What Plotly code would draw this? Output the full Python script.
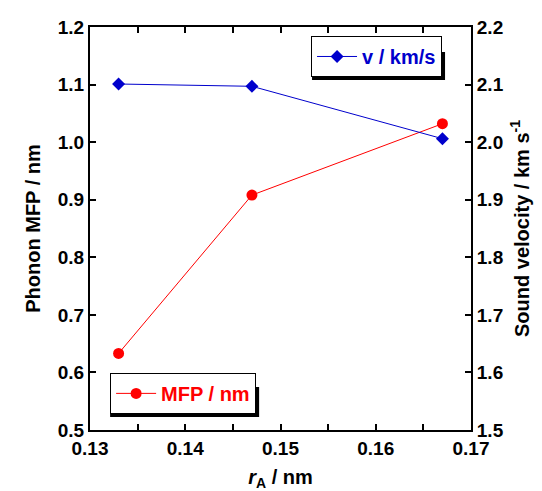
import plotly.graph_objects as go

r_A = [0.133, 0.147, 0.167]
mfp = [0.633, 0.908, 1.032]
velocity = [2.101, 2.097, 2.006]

BLUE = "#0000cc"
RED = "#ff0000"
FONT = "Liberation Sans"

fig = go.Figure()
fig.add_trace(go.Scatter(
    x=r_A, y=velocity, name="<b>v / km/s</b>", yaxis="y2",
    mode="lines+markers", line=dict(color=BLUE, width=1),
    marker=dict(symbol="diamond", size=10, color=BLUE),
    legend="legend"))
fig.add_trace(go.Scatter(
    x=r_A, y=mfp, name="<b>MFP / nm</b>", yaxis="y",
    mode="lines+markers", line=dict(color=RED, width=1),
    marker=dict(symbol="circle", size=11, color=RED),
    legend="legend2"))

axis_common = dict(showline=True, linecolor="black", linewidth=2,
                   ticks="inside", ticklen=6, tickwidth=2, tickcolor="black",
                   showgrid=False, zeroline=False, automargin=False,
                   tickfont=dict(family=FONT, size=19, color="black", weight="bold"))

# legend boxes anchored by their bottom-right corner (paper coords)
leg1_x, leg1_y = 0.924, 0.876
leg2_x, leg2_y = 0.436, 0.040


def shadow(xa, ya, w, h):
    return dict(type="rect", xref="paper", yref="paper",
                xsizemode="pixel", ysizemode="pixel",
                xanchor=xa, yanchor=ya,
                x0=-w + 3, x1=3, y0=-3, y1=h - 3,
                fillcolor="black", line=dict(width=0), layer="above")


fig.update_layout(
    width=542, height=491,
    margin=dict(l=82, r=79, t=19, b=69),
    paper_bgcolor="white", plot_bgcolor="white",
    font=dict(family=FONT, color="black"),
    xaxis=dict(range=[0.13, 0.17], dtick=0.01, tickformat=".2f", mirror="ticks",
               minor=dict(dtick=0.005, ticks="inside", ticklen=6, tickwidth=2, tickcolor="black"),
               title=dict(text="<b><i>r</i><sub>A</sub> / nm</b>", font=dict(size=20), standoff=12),
               **axis_common),
    yaxis=dict(range=[0.5, 1.2], dtick=0.1, tickformat=".1f",
               title=dict(text="<b>Phonon MFP / nm</b>", font=dict(size=20), standoff=12),
               **axis_common),
    yaxis2=dict(range=[1.5, 2.2], dtick=0.1, tickformat=".1f", overlaying="y", side="right",
                title=dict(text="<b>Sound velocity / km s<sup>-1</sup></b>", font=dict(size=20), standoff=12),
                **axis_common),
    legend=dict(x=leg1_x, y=leg1_y, xanchor="right", yanchor="bottom",
                bgcolor="white", bordercolor="black", borderwidth=1,
                font=dict(family=FONT, size=20, color=BLUE), itemwidth=40),
    legend2=dict(x=leg2_x, y=leg2_y, xanchor="right", yanchor="bottom",
                 bgcolor="white", bordercolor="black", borderwidth=1,
                 font=dict(family=FONT, size=20, color=RED), itemwidth=40),
    shapes=[shadow(leg1_x, leg1_y, 133, 28), shadow(leg2_x, leg2_y, 149, 30)],
    showlegend=True,
)

fig.write_html("out.html")
